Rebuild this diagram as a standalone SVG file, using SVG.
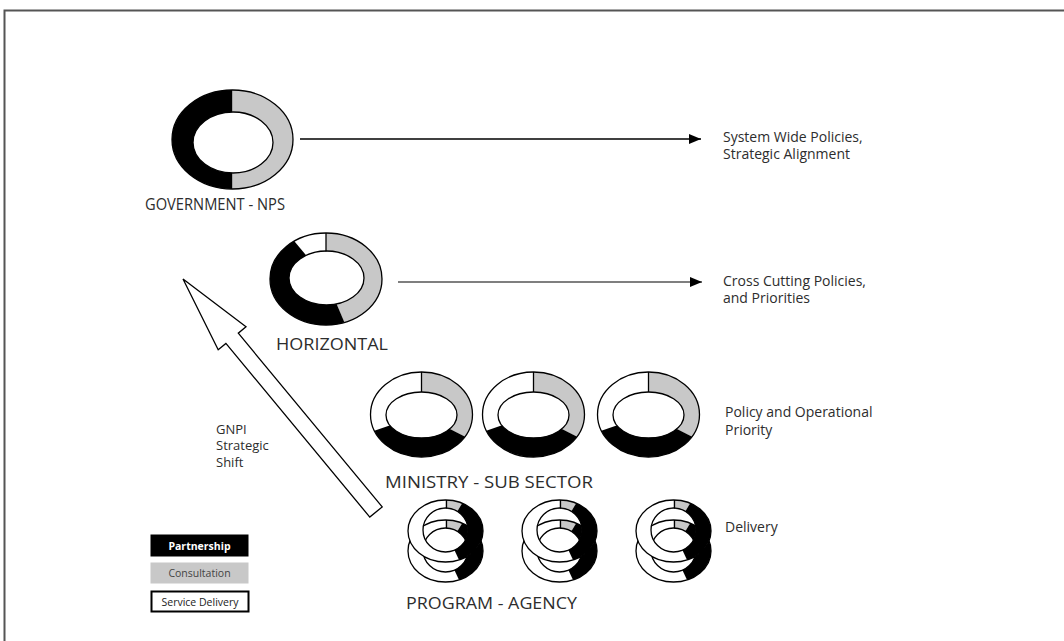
<svg xmlns="http://www.w3.org/2000/svg" xmlns:xlink="http://www.w3.org/1999/xlink" width="1064" height="641" viewBox="0 0 1064 641">
<style>
  .t { font-family: "Open Sans", "Noto Sans", "DejaVu Sans", sans-serif; fill: #2d2d2d; }
  .title { font-size: 17px; }
  .lbl { font-size: 14px; }
  .small { font-size: 13px; }
  .leg { font-size: 10.5px; text-anchor: middle; }
  .ol { fill: none; stroke: #000; stroke-width: 1.3; }
  .blk { fill: #000; }
  .gry { fill: #c8c8c8; }
  .wht { fill: #fff; }
  .div { stroke: #000; stroke-width: 1.3; }
  .conn { fill: none; stroke-width: 1.5; }
</style>
<defs>
  <marker id="ah" markerWidth="12" markerHeight="10" refX="12" refY="5" orient="auto" markerUnits="userSpaceOnUse">
    <path d="M0,0 L12,5 L0,10 Z" fill="#000"/>
  </marker>
  <clipPath id="cGov">
    <path clip-rule="evenodd" d="M172,139.5 a60.5,49.5 0 1,0 121,0 a60.5,49.5 0 1,0 -121,0 Z M193,142.5 a40,30.5 0 1,0 80,0 a40,30.5 0 1,0 -80,0 Z"/>
  </clipPath>
  <clipPath id="cHor">
    <path clip-rule="evenodd" d="M270,279 a56,46 0 1,0 112,0 a56,46 0 1,0 -112,0 Z M289,278 a37.5,27 0 1,0 75,0 a37.5,27 0 1,0 -75,0 Z"/>
  </clipPath>
  <clipPath id="cMin">
    <path clip-rule="evenodd" d="M-51,0 a51,42.5 0 1,0 102,0 a51,42.5 0 1,0 -102,0 Z M-35.5,0.5 a35.5,23 0 1,0 71,0 a35.5,23 0 1,0 -71,0 Z"/>
  </clipPath>
  <clipPath id="cPrg">
    <path clip-rule="evenodd" d="M-37.5,0 a37.5,31 0 1,0 75,0 a37.5,31 0 1,0 -75,0 Z M-22.5,-1 a22.5,22 0 1,0 45,0 a22.5,22 0 1,0 -45,0 Z"/>
  </clipPath>
  <g id="minRing">
    <g clip-path="url(#cMin)">
      <ellipse cx="0" cy="0" rx="52" ry="44" class="wht"/>
      <polygon points="0,0 0,-100 100,-100 99.8,50.8" class="gry"/>
      <polygon points="0,0 99.8,50.8 100,105 -100,105 -94.6,32.6" class="blk"/>
    </g>
    <line x1="0" y1="-42.5" x2="0" y2="-22.5" class="div"/>
    <ellipse cx="0" cy="0" rx="51" ry="42.5" class="ol"/>
    <ellipse cx="0" cy="0.5" rx="35.5" ry="23" class="ol"/>
  </g>
  <g id="prgRing">
    <g clip-path="url(#cPrg)">
      <ellipse cx="0" cy="0" rx="38" ry="32" class="wht"/>
      <polygon points="0,0 0,-80 47.9,-79.7" class="gry"/>
      <polygon points="0,0 47.9,-79.7 80,-80 80,80 37.2,79.7" class="blk"/>
    </g>
    <line x1="1" y1="-31" x2="1" y2="-22.5" class="div"/>
    <ellipse cx="0" cy="0" rx="37.5" ry="31" class="ol"/>
    <ellipse cx="0" cy="-1" rx="22.5" ry="22" class="ol"/>
  </g>
</defs>

<rect width="1064" height="641" fill="#fff"/>
<!-- frame -->
<path d="M4.5,641 L4.5,10.5 L1064,10.5" fill="none" stroke="#555" stroke-width="2"/>

<!-- connectors -->
<g id="connectors">
  <line x1="300" y1="139" x2="701" y2="139" class="conn" stroke="#000" marker-end="url(#ah)"/>
  <line x1="398" y1="282" x2="702" y2="282" class="conn" stroke="#555" stroke-width="1.3" marker-end="url(#ah)"/>
  <polygon id="shift-arrow" points="183,279 246,326.8 238.3,333.2 382.2,506.9 369.8,517.1 225.9,343.4 218.2,349.8" fill="#fff" stroke="#000" stroke-width="1.3" stroke-linejoin="miter"/>
</g>

<!-- Government -->
<g id="government">
  <g clip-path="url(#cGov)">
    <rect x="168" y="85" width="64.5" height="110" class="blk"/>
    <rect x="232.5" y="85" width="64" height="110" class="gry"/>
  </g>
  <ellipse cx="232.5" cy="139.5" rx="60.5" ry="49.5" class="ol"/>
  <ellipse cx="233" cy="142.5" rx="40" ry="30.5" class="ol"/>
  <text x="145" y="210" class="t title" textLength="140" lengthAdjust="spacingAndGlyphs">GOVERNMENT - NPS</text>
</g>

<!-- Horizontal -->
<g id="horizontal">
  <g clip-path="url(#cHor)">
    <ellipse cx="326" cy="279" rx="57" ry="47" class="wht"/>
    <polygon points="326,279 326,179 426,179 426,379 365.1,371.1" class="gry"/>
    <polygon points="326,279 384.7,417.2 176,429 176,129 229.6,164.1" class="blk"/>
  </g>
  <line x1="326" y1="233" x2="326" y2="251.5" class="div"/>
  <ellipse cx="326" cy="279" rx="56" ry="46" class="ol"/>
  <ellipse cx="326.5" cy="278" rx="37.5" ry="27" class="ol"/>
  <text x="276" y="350" class="t title" textLength="112" lengthAdjust="spacingAndGlyphs">HORIZONTAL</text>
</g>

<!-- Ministry -->
<g id="ministry">
  <use xlink:href="#minRing" href="#minRing" transform="translate(421.5,414.5)"/>
  <use xlink:href="#minRing" href="#minRing" transform="translate(533.5,414.5)"/>
  <use xlink:href="#minRing" href="#minRing" transform="translate(648.5,414.5)"/>
  <text x="385" y="488" class="t title" textLength="208" lengthAdjust="spacingAndGlyphs">MINISTRY - SUB SECTOR</text>
</g>

<!-- Program -->
<g id="program">
  <g transform="translate(445.5,531)">
    <use xlink:href="#prgRing" href="#prgRing" transform="translate(0,20)"/>
    <use xlink:href="#prgRing" href="#prgRing"/>
  </g>
  <g transform="translate(559.5,531)">
    <use xlink:href="#prgRing" href="#prgRing" transform="translate(0,20)"/>
    <use xlink:href="#prgRing" href="#prgRing"/>
  </g>
  <g transform="translate(673.5,531)">
    <use xlink:href="#prgRing" href="#prgRing" transform="translate(0,20)"/>
    <use xlink:href="#prgRing" href="#prgRing"/>
  </g>
  <text x="406" y="609" class="t title" textLength="171" lengthAdjust="spacingAndGlyphs">PROGRAM - AGENCY</text>
</g>

<!-- right-hand labels -->
<g id="label-system">
  <text x="723" y="142" class="t lbl">System Wide Policies,</text>
  <text x="723" y="159" class="t lbl">Strategic Alignment</text>
</g>
<g id="label-cross">
  <text x="723" y="286" class="t lbl">Cross Cutting Policies,</text>
  <text x="723" y="303" class="t lbl">and Priorities</text>
</g>
<g id="label-policy">
  <text x="725" y="417" class="t lbl">Policy and Operational</text>
  <text x="725" y="435" class="t lbl">Priority</text>
</g>
<g id="label-delivery">
  <text x="725" y="532" class="t lbl">Delivery</text>
</g>

<g id="label-gnpi">
  <text x="216" y="434" class="t small">GNPI</text>
  <text x="216" y="450" class="t small">Strategic</text>
  <text x="216" y="467" class="t small">Shift</text>
</g>

<!-- legend -->
<g id="legend-partnership">
  <rect x="150.5" y="534.5" width="98" height="22" fill="#000"/>
  <text x="199.5" y="549.5" class="t leg" style="fill:#fff;font-weight:bold">Partnership</text>
</g>
<g id="legend-consultation">
  <rect x="150.5" y="562.5" width="98" height="21" fill="#c8c8c8"/>
  <text x="199.5" y="577" class="t leg" style="fill:#444">Consultation</text>
</g>
<g id="legend-service">
  <rect x="151.5" y="591.5" width="97" height="20" fill="#fff" stroke="#000" stroke-width="2"/>
  <text x="200" y="605.5" class="t leg" style="fill:#222">Service Delivery</text>
</g>
</svg>
